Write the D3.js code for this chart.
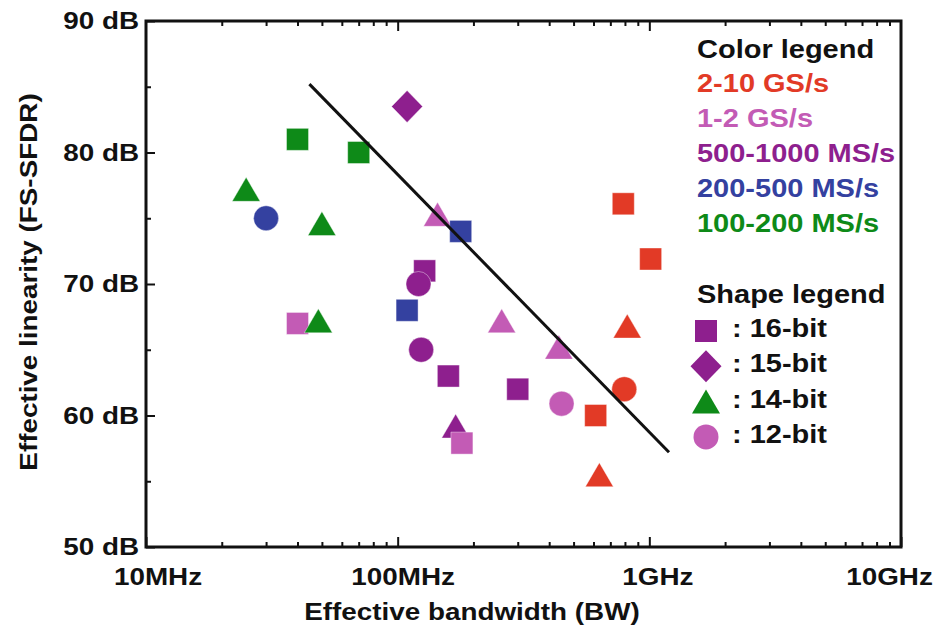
<!DOCTYPE html>
<html>
<head>
<meta charset="utf-8">
<script src="https://cdn.jsdelivr.net/npm/d3@7"></script>
<style>
  body { margin: 0; background: #fff; }
  text { font-family: "Liberation Sans", Arial, sans-serif; font-weight: bold; }
</style>
</head>
<body>
<svg id="chart" width="941" height="627"></svg>
<script>
// rate classes (colour) and resolution classes (shape)
var rateLabels = ["2-10 GS/s", "1-2 GS/s", "500-1000 MS/s", "200-500 MS/s", "100-200 MS/s"];
var rateColors = ["#e23a26", "#c35bb5", "#8e1f8e", "#3441a0", "#0e8a18"];
var bitLabels = [": 16-bit", ": 15-bit", ": 14-bit", ": 12-bit"];
var bitShapes = ["square", "diamond", "triangle", "circle"];
var bitLegendColor = [2, 2, 4, 1];

// one entry per published converter, in drawing order
var bwMHz = [25, 30, 40, 70, 50, 109, 144, 178, 128, 121, 40, 48.4, 109, 124, 159, 170, 180, 259, 300, 437, 448, 788, 1012, 817, 795, 612, 633];
var sfdrDb = [77.2, 75.0, 81.0, 80.0, 74.6, 83.5, 75.3, 74.0, 71.0, 70.0, 67.0, 67.2, 68.0, 65.0, 63.0, 59.2, 57.9, 67.2, 62.0, 65.2, 60.9, 76.1, 71.9, 66.8, 62.0, 60.0, 55.5];
var rateIdx = [4, 3, 4, 4, 4, 2, 1, 3, 2, 2, 1, 4, 3, 2, 2, 2, 1, 1, 2, 1, 1, 0, 0, 0, 0, 0, 0];
var bitIdx = [2, 3, 0, 0, 2, 1, 2, 0, 0, 3, 0, 2, 0, 3, 0, 2, 0, 2, 0, 2, 3, 0, 0, 2, 3, 0, 2];

// trend line end points
var trendBw = [44.6, 1197];
var trendDb = [85.2, 57.2];

var xTickVals = [1e7, 1e8, 1e9, 1e10];
var xTickLabels = ["10MHz", "100MHz", "1GHz", "10GHz"];
var yTickVals = [50, 60, 70, 80, 90];

var WIDE = 1.16; // the original font runs wider than Arial

var svg = d3.select('#chart')
var plotL = 146, plotR = 901, plotT = 21, plotB = 547

var x = d3.scaleLog().domain([1e7, 1e10]).range([plotL, plotR])
var y = d3.scaleLinear().domain([50, 90]).range([plotB, plotT])

function shapePath(kind) {
  if (kind === 'square') return 'M-11,-11H11V11H-11Z'
  if (kind === 'diamond') return 'M0,-16L15.5,0L0,16L-15.5,0Z'
  if (kind === 'triangle') return 'M0,-12L14,12H-14Z'
  return d3.symbol().type(d3.symbolCircle).size(Math.PI * 12.5 * 12.5)()
}

svg.append('rect').attr('width', 941).attr('height', 627).attr('fill', '#fff')

// minor ticks
var minor = []
;[1e7, 1e8, 1e9].forEach(function (d) {
  for (var k = 2; k < 10; k++) minor.push(d * k)
})

svg.append('g').attr('transform', 'translate(0,' + plotB + ')')
  .call(d3.axisBottom(x).tickValues(minor).tickSize(-5).tickFormat(''))
svg.append('g').attr('transform', 'translate(0,' + plotT + ')')
  .call(d3.axisTop(x).tickValues(minor).tickSize(-5).tickFormat(''))
svg.append('g').attr('transform', 'translate(0,' + plotT + ')')
  .call(d3.axisTop(x).tickValues([1e8, 1e9]).tickSize(-10).tickFormat(''))

var xAxis = svg.append('g').attr('transform', 'translate(0,' + plotB + ')')
  .call(d3.axisBottom(x).tickValues(xTickVals).tickSize(-10).tickPadding(21)
    .tickFormat(function (d, i) { return xTickLabels[i] }))

// labels in the original sit a little off their ticks
var xLabelShift = [11.5, 5, 8, -12]
xAxis.selectAll('text')
  .style('font-size', '24px').attr('fill', '#111')
  .attr('x', function (d, i) { return xLabelShift[i] / WIDE })
  .attr('transform', 'scale(' + WIDE + ',1)')

svg.append('g').attr('transform', 'translate(' + plotL + ',0)')
  .call(d3.axisLeft(y).tickValues([55, 65, 75, 85]).tickSize(-5).tickFormat(''))
var yAxis = svg.append('g').attr('transform', 'translate(' + plotL + ',0)')
  .call(d3.axisLeft(y).tickValues(yTickVals).tickSize(-9).tickPadding(6)
    .tickFormat(function (d) { return d + ' dB' }))
yAxis.selectAll('text')
  .style('font-size', '24px').attr('fill', '#111')
  .attr('transform', 'scale(' + WIDE + ',1)')

svg.selectAll('.domain').remove()
svg.selectAll('.tick line').attr('stroke', '#111').attr('stroke-width', 2)

// frame
svg.append('rect')
  .attr('x', plotL).attr('y', plotT)
  .attr('width', plotR - plotL).attr('height', plotB - plotT)
  .attr('fill', 'none').attr('stroke', '#111').attr('stroke-width', 3)

// points
var pts = bwMHz.map(function (d, i) {
  return { bw: d * 1e6, db: sfdrDb[i], rate: rateIdx[i], bits: bitIdx[i] }
})

svg.append('g').selectAll('path')
  .data(pts)
  .enter().append('path')
  .attr('transform', function (d) { return 'translate(' + x(d.bw) + ',' + y(d.db) + ')' })
  .attr('d', function (d) { return shapePath(bitShapes[d.bits]) })
  .attr('fill', function (d) { return rateColors[d.rate] })
  .attr('stroke', '#fff').attr('stroke-opacity', 0.5).attr('stroke-width', 0.8)

// trend line
svg.append('line')
  .attr('x1', x(trendBw[0] * 1e6)).attr('y1', y(trendDb[0]))
  .attr('x2', x(trendBw[1] * 1e6)).attr('y2', y(trendDb[1]))
  .attr('stroke', '#111').attr('stroke-width', 3)

// axis titles
svg.append('text')
  .attr('transform', 'translate(472,620) scale(' + WIDE + ',1)')
  .attr('text-anchor', 'middle').style('font-size', '24px').attr('fill', '#111')
  .text('Effective bandwidth (BW)')
svg.append('text')
  .attr('transform', 'translate(37,282) rotate(-90) scale(' + WIDE + ',1)')
  .attr('text-anchor', 'middle').style('font-size', '24px').attr('fill', '#111')
  .text('Effective linearity (FS-SFDR)')

// colour legend
var lx = 697
svg.append('text')
  .attr('transform', 'translate(' + lx + ',58) scale(' + WIDE + ',1)')
  .style('font-size', '25px').attr('fill', '#111')
  .text('Color legend')
svg.append('g').selectAll('text')
  .data(rateLabels)
  .enter().append('text')
  .attr('transform', function (d, i) { return 'translate(' + lx + ',' + (92 + i * 35) + ') scale(' + WIDE + ',1)' })
  .style('font-size', '25px')
  .attr('fill', function (d, i) { return rateColors[i] })
  .text(function (d) { return d })

// shape legend
svg.append('text')
  .attr('transform', 'translate(' + lx + ',303) scale(' + WIDE + ',1)')
  .style('font-size', '25px').attr('fill', '#111')
  .text('Shape legend')
var shapeRows = svg.append('g').selectAll('g')
  .data(bitLabels)
  .enter().append('g')
  .attr('transform', function (d, i) { return 'translate(0,' + (337 + i * 35.3) + ')' })
shapeRows.append('path')
  .attr('transform', 'translate(706,-6)')
  .attr('d', function (d, i) { return shapePath(bitShapes[i]) })
  .attr('fill', function (d, i) { return rateColors[bitLegendColor[i]] })
shapeRows.append('text')
  .attr('transform', 'translate(732,0) scale(' + WIDE + ',1)')
  .style('font-size', '25px').attr('fill', '#111')
  .text(function (d) { return d })
</script>
</body>
</html>
